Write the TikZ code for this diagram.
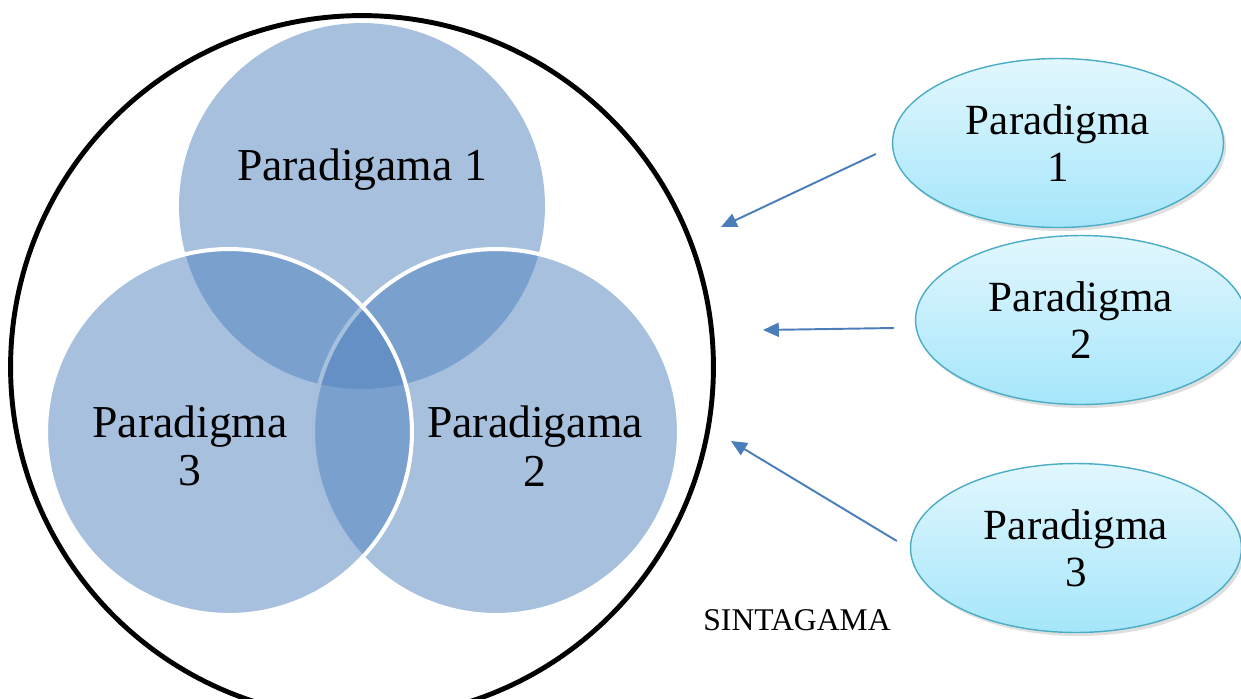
\documentclass[tikz,border=0pt]{standalone}
\usepackage{fontspec}
\setmainfont{Liberation Serif}
\usetikzlibrary{arrows.meta,shadows,shapes.geometric}
\definecolor{vennblue}{HTML}{4F81BD}
\definecolor{arrowblue}{HTML}{4A7EBB}
\definecolor{rimcyan}{HTML}{4BACC6}
\definecolor{topcyan}{HTML}{E2F7FE}
\definecolor{botcyan}{HTML}{A5E6FA}

\begin{document}
\begin{tikzpicture}[x=0.02cm,y=-0.02cm,
    set/.style={circle,inner sep=0,minimum size=7.32cm,fill=vennblue,fill opacity=0.5},
    lbl/.style={font=\fontsize{26}{27.5}\selectfont,align=center},
    par/.style={ellipse,draw=rimcyan,line width=0.8pt,top color=topcyan,bottom color=botcyan,
      minimum width=6.62cm,minimum height=3.38cm,inner sep=0,
      drop shadow={shadow xshift=1.5pt,shadow yshift=-2pt,opacity=0.25},
      font=\fontsize{24.5}{27}\selectfont,align=center},
    arr/.style={arrowblue,line width=1.1pt,-{Triangle[length=9pt,width=8pt]}}]
      \useasboundingbox (0,0) rectangle (1241,698);
      \node[circle,draw,line width=2.8pt,inner sep=0,minimum size=14.06cm] (sint) at (362,367) {};
      % the three sets
      \node[set] (p1) at (362,206) {};
      \node[set,draw=white,line width=2.3pt] (p2) at (496,432) {};
      \node[set,draw=white,line width=2.3pt] (p3) at (229,432) {};
      \node[lbl] (l1) at (362,170) {Paradigama 1};
      \node[lbl] (l2) at (535,446) {Paradigama\\2};
      \node[lbl] (l3) at (190,446) {Paradigma\\3};
      \node[font=\fontsize{18}{20}\selectfont] (name) at (797,620) {SINTAGAMA};
      \foreach \i/\x/\y in {1/1058/143,2/1081/320,3/1076/548}
        \node[par] (e\i) at (\x,\y) {Paradigma\\\i};
      \coordinate (t1) at (721,227);
      \coordinate (t2) at (763,330);
      \coordinate (t3) at (731,441);
      \draw[arr] ([shift={(-16,11)}]e1.west) -- (t1);
      \draw[arr] ([shift={(-21,8)}]e2.west) -- (t2);
      \draw[arr] ([shift={(-13,-7)}]e3.west) -- (t3);
\end{tikzpicture}
\end{document}
